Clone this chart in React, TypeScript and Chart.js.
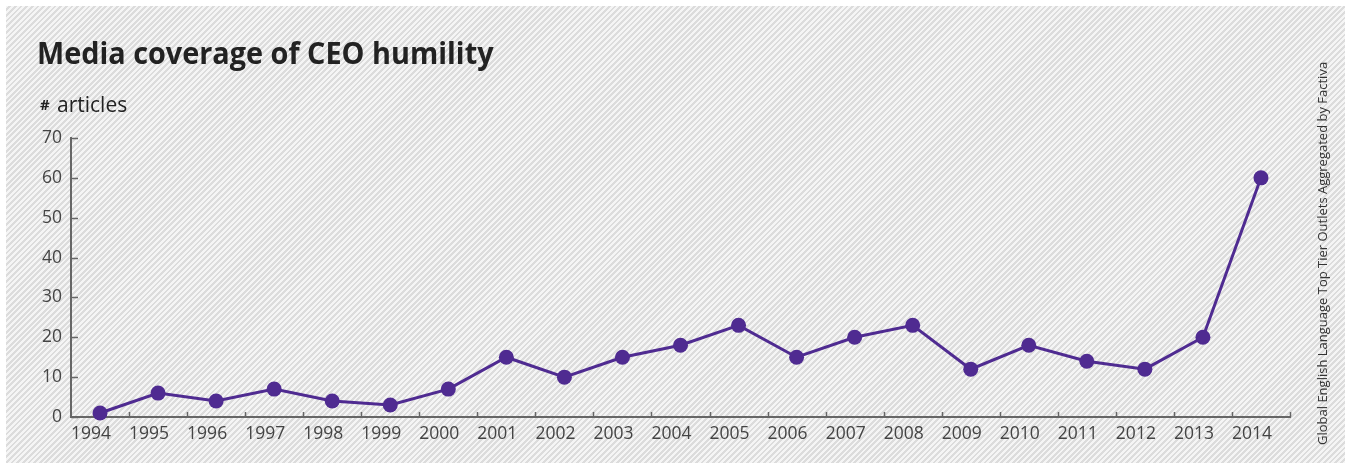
import React, { useEffect, useRef } from "react";
import { Chart, registerables } from "chart.js";

Chart.register(...registerables);

const years = ["1994","1995","1996","1997","1998","1999","2000","2001","2002","2003","2004","2005","2006","2007","2008","2009","2010","2011","2012","2013","2014"];
const articles = [1, 6, 4, 7, 4, 3, 7, 15, 10, 15, 18, 23, 15, 20, 23, 12, 18, 14, 12, 20, 60];
const titleText = "Media coverage of CEO humility";
const yUnit = "articles";
const sourceText = "Global English Language Top Tier Outlets Aggregated by Factiva";

const FONT = '"Open Sans", "Noto Sans", sans-serif';
const PURPLE = "#4f2b91";
const AXIS = "#666666";

const decorPlugin = {
  id: "decor",
  afterDraw(chart: any) {
    const ctx = chart.ctx;
    const x = chart.scales.x;
    const y = chart.scales.y;
    ctx.save();
    // inward ticks
    ctx.strokeStyle = AXIS;
    ctx.lineWidth = 1.5;
    const yTicks = y.ticks;
    for (const t of yTicks) {
      const py = Math.round(y.getPixelForValue(t.value)) + 0.5;
      ctx.beginPath();
      ctx.moveTo(x.left, py);
      ctx.lineTo(x.left + 7, py);
      ctx.stroke();
    }
    const n = years.length;
    for (let i = 1; i <= n; i++) {
      const px = Math.round(x.left + (i * (x.right - x.left)) / n) + 0.5;
      ctx.beginPath();
      ctx.moveTo(px, y.bottom);
      ctx.lineTo(px, y.bottom - 5);
      ctx.stroke();
    }
    // title
    ctx.fillStyle = "#222222";
    ctx.textBaseline = "alphabetic";
    ctx.textAlign = "left";
    ctx.save();
    ctx.translate(37, 64);
    ctx.scale(0.93, 1);
    ctx.font = `bold 31px ${FONT}`;
    ctx.fillText(titleText, 0, 0);
    ctx.restore();
    // y unit
    ctx.font = `bold 15px ${FONT}`;
    ctx.fillText("#", 40, 110);
    ctx.font = `21px ${FONT}`;
    ctx.fillText(yUnit, 57, 112);
    // source rotated
    ctx.translate(1327, 445);
    ctx.rotate(-Math.PI / 2);
    ctx.font = `13px ${FONT}`;
    ctx.fillStyle = "#333333";
    ctx.fillText(sourceText, 0, 0);
    ctx.restore();
  },
};

export default function App() {
  const ref = useRef<HTMLCanvasElement | null>(null);
  useEffect(() => {
    if (!ref.current) return;
    const chart = new Chart(ref.current, {
      type: "line",
      data: {
        labels: years,
        datasets: [
          {
            data: articles,
            borderColor: PURPLE,
            backgroundColor: PURPLE,
            borderWidth: 3,
            pointRadius: 7.5,
            pointHoverRadius: 7.5,
            pointBackgroundColor: PURPLE,
            pointBorderWidth: 0,
            tension: 0,
            clip: false as any,
          },
        ],
      },
      options: {
        responsive: false,
        animation: false,
        layout: { padding: { top: 138, right: 61, left: 0, bottom: 0 } },
        plugins: { legend: { display: false }, title: { display: false }, tooltip: { enabled: false } },
        scales: {
          x: {
            offset: true,
            grid: { display: false, drawTicks: false },
            border: { display: true, color: AXIS, width: 2 },
            ticks: { color: "#444444", font: { family: FONT, size: 17.5 }, padding: 7, labelOffset: -9, maxRotation: 0, autoSkip: false },
            afterFit(scale: any) { scale.height = 51; },
          },
          y: {
            min: 0,
            max: 70,
            grid: { display: false, drawTicks: false },
            border: { display: true, color: AXIS, width: 2 },
            ticks: { stepSize: 10, color: "#444444", font: { family: FONT, size: 17.5 }, padding: 9 },
            afterFit(scale: any) { scale.width = 71; },
          },
        },
      },
      plugins: [decorPlugin],
    });
    return () => chart.destroy();
  }, []);
  return (
    <div style={{ position: "fixed", left: 0, top: 0, width: 1351, height: 468, background: "#ffffff" }}>
      <div
        style={{
          position: "absolute",
          left: 6,
          top: 6,
          width: 1339,
          height: 457,
          background: "repeating-linear-gradient(135deg, #f5f5f5 0px, #f5f5f5 2px, #dcdcdc 2px, #dcdcdc 4px)",
        }}
      />
      <canvas ref={ref} width={1351} height={468} style={{ position: "absolute", left: 0, top: 0, width: 1351, height: 468 }} />
    </div>
  );
}
